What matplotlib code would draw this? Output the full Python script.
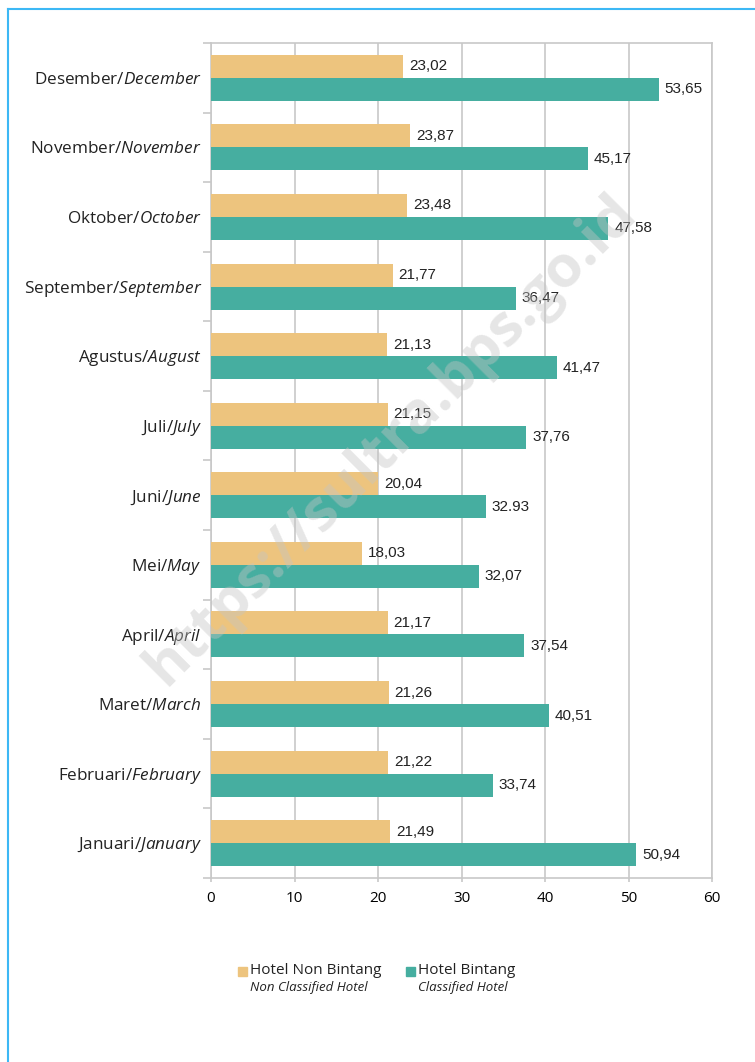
import numpy as np
import matplotlib
matplotlib.use('Agg')
import matplotlib.pyplot as plt
from matplotlib.lines import Line2D
from matplotlib.patches import Rectangle

# --- data (bottom to top) ---
months_id = ['Januari', 'Februari', 'Maret', 'April', 'Mei', 'Juni',
             'Juli', 'Agustus', 'September', 'Oktober', 'November', 'Desember']
months_en = ['January', 'February', 'March', 'April', 'May', 'June',
             'July', 'August', 'September', 'October', 'November', 'December']
non_bintang = [21.49, 21.22, 21.26, 21.17, 18.03, 20.04,
               21.15, 21.13, 21.77, 23.48, 23.87, 23.02]
bintang = [50.94, 33.74, 40.51, 37.54, 32.07, 32.93,
           37.76, 41.47, 36.47, 47.58, 45.17, 53.65]
non_bintang_lbl = ['21,49', '21,22', '21,26', '21,17', '18,03', '20,04',
                   '21,15', '21,13', '21,77', '23,48', '23,87', '23,02']
bintang_lbl = ['50,94', '33,74', '40,51', '37,54', '32,07', '32.93',
               '37,76', '41,47', '36,47', '47,58', '45,17', '53,65']

ORANGE = '#EDC47E'
TEAL = '#46AEA0'
GRID = '#c8c8c8'

plt.rcParams['font.family'] = ['Open Sans', 'DejaVu Sans']
plt.rcParams['mathtext.fontset'] = 'custom'
plt.rcParams['mathtext.rm'] = 'Open Sans'
plt.rcParams['mathtext.it'] = 'Open Sans:italic'

fig = plt.figure(figsize=(7.55, 10.62), dpi=100)
ax = fig.add_axes([211 / 755, 1 - 878 / 1062, 501 / 755, 835 / 1062])

y = np.arange(len(months_id))
h = 0.33
ax.barh(y + h / 2, non_bintang, height=h, color=ORANGE, zorder=3)
ax.barh(y - h / 2, bintang, height=h, color=TEAL, zorder=3)

for i in range(len(y)):
    ax.text(non_bintang[i] + 0.7, y[i] + h / 2, non_bintang_lbl[i], va='center',
            ha='left', fontsize=11, family='Liberation Sans', color='#222222', zorder=4)
    ax.text(bintang[i] + 0.7, y[i] - h / 2, bintang_lbl[i], va='center',
            ha='left', fontsize=11, family='Liberation Sans', color='#222222', zorder=4)

ax.set_xlim(0, 60)
ax.set_ylim(-0.5, len(y) - 0.5)
ax.set_xticks(range(0, 61, 10))
ax.set_yticks(np.arange(-0.5, len(y), 1))
ax.set_yticklabels([])
ax.tick_params(axis='y', length=6, color=GRID, width=1.2)
ax.tick_params(axis='x', length=3, color=GRID, width=1.2, labelsize=11, pad=6)
ax.grid(axis='x', color=GRID, linewidth=1.2, zorder=0)
for s in ax.spines.values():
    s.set_color(GRID)
    s.set_linewidth(1.2)

# month labels: Indonesian upright + English italic
for i in range(len(y)):
    ax.text(-1.1, y[i] - 0.03, months_id[i] + '/' + r'$\it{' + months_en[i] + '}$',
            ha='right', va='center', fontsize=12.3, color='#222222')

# watermark
fig.text(0.518, 0.585, 'https://sultra.bps.go.id', rotation=45, ha='center', va='center',
         fontsize=42, fontweight='bold', color='#c4c4c4', alpha=0.42, zorder=10)

# legend
lx = [238 / 755, 406 / 755]
names = ['Hotel Non Bintang', 'Hotel Bintang']
sub = ['Non Classified Hotel', 'Classified Hotel']
cols = [ORANGE, TEAL]
for k in range(2):
    fig.patches.append(Rectangle((lx[k], 1 - 976 / 1062), 9 / 755, 9 / 1062,
                                 transform=fig.transFigure, color=cols[k]))
    fig.text(lx[k] + 12 / 755, 1 - 971 / 1062, names[k], ha='left', va='center',
             fontsize=11, color='#222222')
    fig.text(lx[k] + 12 / 755, 1 - 988 / 1062, sub[k], ha='left', va='center',
             fontsize=9.5, style='italic', color='#222222')

# blue frame
fig.add_artist(Line2D([8 / 755, 8 / 755], [0, 1 - 9 / 1062], color='#3DB8F5', linewidth=1.5))
fig.add_artist(Line2D([8 / 755, 1], [1 - 9 / 1062, 1 - 9 / 1062], color='#3DB8F5', linewidth=1.5))

fig.savefig('out.png', dpi=100)
